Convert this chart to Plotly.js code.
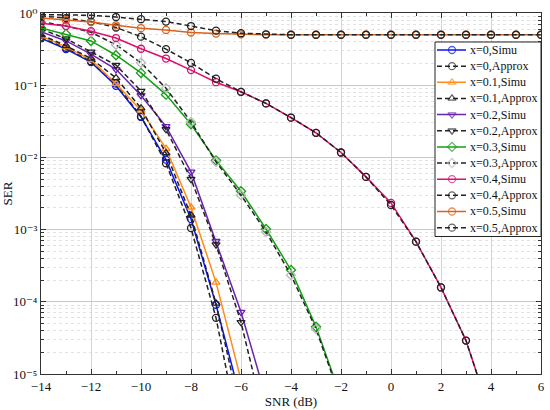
<!DOCTYPE html>
<html><head><meta charset="utf-8">
<script src="https://cdn.plot.ly/plotly-3.0.1.min.js"></script>
<style>html,body{margin:0;padding:0;background:#fff}#chart{width:550px;height:410px}</style>
</head><body><div id="chart"></div>
<script>
// SNR grid (dB)
const snr = [-14,-13,-12,-11,-10,-9,-8,-7,-6,-5,-4,-3,-2,-1,0,1,2,3,4,5,6];

// Simulated SER
const simu_x0  = [0.447,0.316,0.209,0.098,0.0363,0.0093,0.0014,9.1e-5,4.3e-6];
const simu_x01 = [0.48,0.34,0.224,0.105,0.0447,0.0132,0.00204,1.86e-4,8.3e-6];
const simu_x02 = [0.55,0.41,0.27,0.166,0.072,0.0269,0.0063,6.9e-4,7.2e-5,4.7e-6];
const simu_x03 = [0.62,0.51,0.41,0.26,0.148,0.074,0.0288,0.0091,0.0034,1.02e-3,2.75e-4,4.5e-5,4.8e-6];
const simu_x04 = [0.72,0.66,0.56,0.45,0.32,0.234,0.162,0.11,0.081,0.056,0.0355,0.0219,0.0117,0.00537,0.00234,6.8e-4,1.58e-4,2.9e-5,2.6e-6];
const simu_x05 = [0.851,0.794,0.75,0.676,0.617,0.582,0.537,0.519,0.507,0.501,0.5,0.5,0.5,0.5,0.5,0.5,0.5,0.5,0.5,0.5,0.5];

// Approximated SER
const appr_x0  = [0.46,0.33,0.215,0.105,0.037,0.0083,0.00105,6.0e-5,1.1e-6];
const appr_x01 = [0.5,0.35,0.235,0.126,0.048,0.0115,0.00158,9.5e-5,2.8e-6];
const appr_x02 = [0.6,0.44,0.29,0.19,0.083,0.0245,0.005,6.2e-4,5.2e-5,1.9e-6];
const appr_x03 = [0.76,0.66,0.54,0.363,0.204,0.091,0.031,0.0087,0.0030,9.3e-4,2.34e-4,4.2e-5,4.4e-6];
const appr_x04 = [0.91,0.85,0.76,0.63,0.47,0.316,0.204,0.123,0.081,0.056,0.0355,0.0219,0.0117,0.00537,0.00219,6.8e-4,1.58e-4,2.9e-5,2.6e-6];
const appr_x05 = [0.95,0.94,0.93,0.88,0.82,0.76,0.66,0.57,0.525,0.507,0.5,0.5,0.5,0.5,0.5,0.5,0.5,0.5,0.5,0.5,0.5];

// Tick labels
const yTickVals = [1e-5,1e-4,1e-3,1e-2,1e-1,1];
const yTickText = ['10⁻⁵','10⁻⁴','10⁻³','10⁻²','10⁻¹','10⁰'];
const xTickVals = [-14,-12,-10,-8,-6,-4,-2,0,2,4,6];
const xTickText = ['−14','−12','−10','−8','−6','−4','−2','0','2','4','6'];

// Legend labels
const legendNames = ['x=0,Simu','x=0,Approx','x=0.1,Simu','x=0.1,Approx','x=0.2,Simu','x=0.2,Approx',
                     'x=0.3,Simu','x=0.3,Approx','x=0.4,Simu','x=0.4,Approx','x=0.5,Simu','x=0.5,Approx'];

const DASH = '5px,3px';
const BLK = '#222222';
const styles = [
  {y:simu_x0,  color:'#0a14f0', sym:'circle-open',        dash:'solid', mcol:'#0a14f0'},
  {y:appr_x0,  color:BLK,       sym:'circle-open',        dash:DASH,    mcol:BLK},
  {y:simu_x01, color:'#ff8c1a', sym:'triangle-up-open',   dash:'solid', mcol:'#ff8c1a'},
  {y:appr_x01, color:BLK,       sym:'triangle-up-open',   dash:DASH,    mcol:BLK},
  {y:simu_x02, color:'#6a22b0', sym:'triangle-down-open', dash:'solid', mcol:'#6a22b0'},
  {y:appr_x02, color:BLK,       sym:'triangle-down-open', dash:DASH,    mcol:BLK},
  {y:simu_x03, color:'#14a014', sym:'diamond-open',       dash:'solid', mcol:'#14a014'},
  {y:appr_x03, color:BLK,       sym:'diamond-open',       dash:DASH,    mcol:'#b8b8b8'},
  {y:simu_x04, color:'#dc0f6e', sym:'circle-open',        dash:'solid', mcol:'#dc0f6e'},
  {y:appr_x04, color:BLK,       sym:'circle-open',        dash:DASH,    mcol:BLK},
  {y:simu_x05, color:'#d9621c', sym:'circle-open',        dash:'solid', mcol:'#d9621c'},
  {y:appr_x05, color:BLK,       sym:'circle-open',        dash:DASH,    mcol:BLK}
];

const traces = styles.map((s,i) => ({
  type:'scatter', mode:'lines+markers', name:legendNames[i],
  x: snr.slice(0, s.y.length), y: s.y,
  line:{color:s.color, width:1.5, dash:s.dash},
  marker:{symbol:s.sym, size:7, color:s.mcol, line:{width:1.3, color:s.mcol}},
  showlegend:false
}));

// ---- custom legend drawn in a small overlay subplot (units = pixels) ----
const LW = 106, LH = 194.5, ROW0 = 8, ROWH = 16.15;
traces.push({type:'scatter', mode:'lines', xaxis:'x2', yaxis:'y2', showlegend:false,
  x:[0,LW,LW,0,0], y:[0,0,LH,LH,0], fill:'toself', fillcolor:'#ffffff', line:{width:0}});
const annotations = [];
styles.forEach((s,i) => {
  const yy = ROW0 + ROWH*i;
  traces.push({type:'scatter', mode:'lines+markers', xaxis:'x2', yaxis:'y2', showlegend:false,
    x:[2,17,31], y:[yy,yy,yy],
    line:{color:s.color, width:1.5, dash:s.dash},
    marker:{symbol:s.sym, size:[0,7,0], color:s.mcol, line:{width:1.3, color:s.mcol}}});
  annotations.push({xref:'x2', yref:'y2', x:33, y:yy, xanchor:'left', yanchor:'middle',
    text:legendNames[i], showarrow:false, font:{family:'"Liberation Serif", serif', size:12, color:'#111'}});
});

const fontFam = '"Liberation Serif", "DejaVu Serif", serif';
const layout = {
  width:550, height:410,
  margin:{l:41, r:9, t:13, b:36},
  paper_bgcolor:'#fff', plot_bgcolor:'#fff',
  font:{family:fontFam, size:13, color:'#111'},
  showlegend:false,
  annotations: annotations,
  shapes:[{type:'rect', xref:'paper', yref:'paper', x0:0.788, x1:1.0, y0:0.3809, y1:0.9197,
           line:{color:'#222', width:1}, fillcolor:'rgba(0,0,0,0)', layer:'above'}],
  xaxis:{range:[-14,6], tickmode:'array', tickvals:xTickVals, ticktext:xTickText,
         ticks:'inside', ticklen:5, tickcolor:'#333', showline:true, linecolor:'#333', linewidth:1,
         mirror:'allticks', showgrid:true, gridcolor:'#d4d4d4', gridwidth:1, zeroline:false,
         minor:{dtick:1, ticks:'inside', ticklen:3, tickcolor:'#333', showgrid:false},
         title:{text:'SNR (dB)', font:{family:fontFam, size:13}, standoff:0}},
  yaxis:{type:'log', range:[-5,0], tickmode:'array', tickvals:yTickVals, ticktext:yTickText,
         ticks:'inside', ticklen:5, tickcolor:'#333', showline:true, linecolor:'#333', linewidth:1,
         mirror:'allticks', showgrid:true, gridcolor:'#c8c8c8', gridwidth:1, zeroline:false,
         tickfont:{family:fontFam, size:13},
         minor:{dtick:'D1', ticks:'inside', ticklen:3, tickcolor:'#333', showgrid:true,
                gridcolor:'#e2e2e2', griddash:'dot', gridwidth:1},
         title:{text:'SER', font:{family:fontFam, size:13}, standoff:0}},
  xaxis2:{domain:[0.788,1.0], range:[0,LW], anchor:'y2', visible:false, fixedrange:true},
  yaxis2:{domain:[0.3809,0.9197], range:[LH,0], anchor:'x2', visible:false, fixedrange:true}
};

Plotly.newPlot('chart', traces, layout, {staticPlot:true, displayModeBar:false});
</script></body></html>
